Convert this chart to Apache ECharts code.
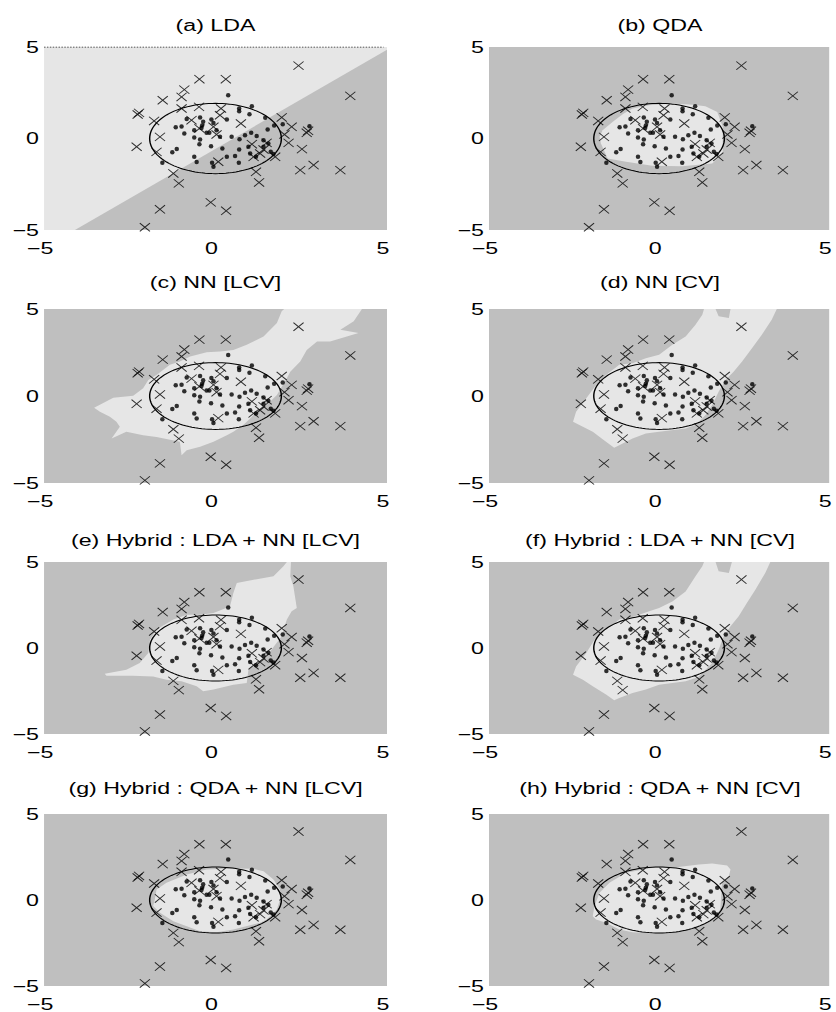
<!DOCTYPE html>
<html>
<head>
<meta charset="utf-8">
<script src="https://cdn.jsdelivr.net/npm/echarts@6/dist/echarts.min.js"></script>
<style>
    html, body { margin: 0; padding: 0; background: #fff; overflow: hidden; }
    /* the reference figure is stretched horizontally, so the chart is too */
    #main { width: 577px; height: 1012px; transform: scaleX(1.44887); transform-origin: 0 0; }
</style>
</head>
<body>
<div id="main"></div>
<script>
// class 1 points (dots), shared by all panels
var dotPoints = [
    [0.37, 2.36], [0.69, 1.64], [0.69, 1.49], [1.06, 1.76], [0.99, 1.33], [1.45, 1.13],
    [0.33, 1.04], [-0.45, 1.15], [-0.84, 1.07], [-1.16, 0.62], [-0.99, 0.65], [-0.91, 0.27],
    [-0.62, 0.45], [-0.41, 0.58], [-0.39, 0.71], [-0.26, 0.31], [-0.18, 0.31], [-0.12, 1.04],
    [-0.06, 0.85], [-0.62, 0.05], [-0.45, -0.05], [-0.47, -0.31], [-0.13, -0.42], [-1.13, -0.58],
    [-1.26, -0.75], [-1.55, -1.33], [-0.62, -1.0], [-0.55, -1.29], [-0.10, -1.33], [-0.06, -1.55],
    [0.20, -0.55], [0.33, -1.0], [0.57, -0.95], [0.68, -1.33], [0.69, -0.6], [0.47, 0.09],
    [0.70, -0.04], [0.86, 0.18], [1.04, 0.31], [1.20, 0.13], [1.40, -0.09], [1.52, 0.49],
    [1.71, 0.71], [1.96, 0.78], [2.74, 0.67], [0.96, -0.45], [1.01, -0.82], [1.18, -1.0],
    [1.40, -0.45], [1.54, -0.27], [1.61, -0.73], [1.69, -0.85], [0.13, 0.09], [0.03, 0.45],
    [-0.36, 0.91]
];

// class 2 points (crosses)
var crossPoints = [
    [2.42, 3.98], [-0.47, 3.24], [0.30, 3.24], [-0.91, 2.67], [-0.99, 2.27], [-1.54, 2.09],
    [3.93, 2.33], [-2.27, 1.31], [-2.23, 1.40], [-0.99, 1.64], [-0.48, 1.73], [0.16, 1.64],
    [-1.79, 0.96], [-0.70, 1.0], [0.13, 1.27], [-0.47, 0.55], [-0.06, 0.64], [0.03, 0.22],
    [0.74, 0.82], [-1.62, 0.09], [-2.30, -0.45], [-1.72, -0.73], [1.93, 1.15], [2.22, 0.64],
    [2.01, 0.22], [2.66, 0.31], [2.70, 0.42], [2.13, -0.24], [1.06, -0.31], [1.49, -0.24],
    [1.40, -0.6], [1.74, -1.0], [1.11, -1.0], [1.30, -0.82], [2.52, -0.58], [0.08, -1.27],
    [2.47, -1.73], [2.86, -1.45], [3.64, -1.73], [-1.23, -1.91], [-1.07, -2.45], [1.18, -1.82],
    [1.27, -2.4], [-0.14, -3.49], [0.31, -3.95], [-1.62, -3.87], [-2.06, -4.85]
];

// reference contour
var ellipseCenter = [0, 0];
var ellipseRadius = [1.92, 1.92];

var axisMin = -5;
var axisMax = 5;
var axisStep = 5;

var panelTitles = [
    '(a) LDA', '(b) QDA',
    '(c) NN [LCV]', '(d) NN [CV]',
    '(e) Hybrid : LDA + NN [LCV]', '(f) Hybrid : LDA + NN [CV]',
    '(g) Hybrid : QDA + NN [LCV]', '(h) Hybrid : QDA + NN [CV]'
];

// decision regions (data coords)
var regionA = [[-4.1, -5], [5, 4.85], [5, -5]];
var regionB = [[-1.75, 0.10], [-1.66, 0.45], [-1.36, 0.91], [-1.05, 1.35], [-0.78, 1.64], [-0.3, 1.82],
    [0.39, 1.91], [1.0, 1.85], [1.36, 1.76], [1.71, 1.45], [1.87, 0.64], [1.87, -0.82], [1.56, -1.36],
    [0.68, -1.51], [-0.2, -1.49], [-0.97, -1.27], [-1.51, -1.09], [-1.71, -0.27]];
var regionC = [[-3.54, -0.67], [-2.98, -0.10], [-2.40, 0.02], [-2.11, 0.44], [-1.96, 0.92], [-1.72, 1.21],
    [-1.33, 1.79], [-1.04, 1.98], [-0.74, 2.27], [-0.26, 2.52], [0.13, 2.56], [0.52, 2.65], [0.91, 2.94],
    [1.40, 3.42], [1.79, 4.19], [1.93, 4.87], [2.0, 5], [4.27, 5], [4.03, 4.29], [3.64, 3.81], [4.17, 3.62],
    [3.34, 3.13], [2.96, 3.13], [2.66, 2.65], [2.47, 1.98], [2.18, 1.40], [2.08, 1.02], [1.79, 0.06],
    [1.49, -0.52], [1.20, -0.90], [1.01, -1.29], [0.81, -1.67], [0.52, -2.06], [0.33, -2.25], [-0.06, -2.63],
    [-0.45, -2.92], [-0.84, -3.12], [-0.99, -3.40], [-1.04, -2.63], [-1.72, -2.35], [-2.11, -2.25],
    [-2.6, -2.06], [-3.03, -2.44], [-2.79, -1.77], [-2.89, -1.48], [-3.08, -1.19], [-3.37, -0.90]];
var regionD = [[-2.53, -1.48], [-2.44, -0.90], [-2.14, -0.13], [-1.85, 0.63], [-1.56, 1.21], [-1.17, 1.79],
    [-0.78, 1.88], [-0.39, 2.17], [0.0, 2.37], [0.39, 2.94], [0.78, 3.42], [1.07, 4.10], [1.27, 4.67],
    [1.32, 5], [1.66, 5], [1.75, 4.58], [2.05, 4.48], [2.10, 5], [3.46, 5], [3.31, 4.38], [3.02, 3.52],
    [2.73, 2.75], [2.44, 1.98], [2.19, 1.40], [1.95, 0.92], [1.75, 0.25], [1.56, -0.52], [1.36, -1.10],
    [1.17, -1.48], [1.07, -1.67], [0.78, -1.87], [0.0, -2.06], [-0.39, -2.15], [-0.78, -2.44],
    [-1.17, -2.83], [-1.32, -2.98], [-1.56, -2.63], [-1.95, -2.06], [-2.24, -1.77]];
var regionE = [[-3.23, -1.49], [-2.6, -1.26], [-2.21, -0.87], [-1.96, -0.29], [-1.91, 0.48], [-1.72, 1.07],
    [-1.23, 1.65], [-0.84, 1.94], [-0.45, 1.94], [-0.06, 2.03], [0.42, 2.42], [0.52, 3.20], [0.62, 3.78],
    [1.11, 3.97], [1.69, 4.17], [1.98, 4.75], [2.08, 5], [2.2, 5], [2.18, 4.17], [2.27, 3.59], [2.37, 2.33],
    [2.22, 2.13], [2.08, 1.65], [1.93, 0.68], [1.74, 0.19], [1.49, -0.48], [1.20, -0.87], [0.96, -1.26],
    [0.91, -2.03], [0.52, -2.13], [-0.06, -2.42], [-0.36, -2.52], [-0.55, -2.23], [-0.99, -1.94],
    [-1.43, -1.84], [-1.82, -1.65], [-2.4, -1.61], [-3.18, -1.61]];
var regionF = [[-2.53, -1.55], [-2.44, -1.07], [-2.14, -0.29], [-1.90, 0.48], [-1.56, 1.07], [-1.17, 1.65],
    [-0.78, 1.80], [-0.29, 2.13], [0.0, 2.33], [0.39, 2.71], [0.78, 3.29], [1.07, 4.17], [1.27, 4.75],
    [1.32, 5], [1.66, 5], [1.75, 4.46], [2.05, 4.36], [2.14, 5], [3.27, 5], [3.12, 4.36], [2.83, 3.39],
    [2.58, 2.62], [2.34, 1.84], [2.10, 1.26], [1.90, 0.68], [1.75, -0.10], [1.56, -0.87], [1.17, -1.65],
    [1.07, -1.74], [0.78, -1.94], [0.0, -2.13], [-0.39, -2.42], [-0.78, -2.62], [-1.17, -2.91],
    [-1.32, -3.04], [-1.56, -2.71], [-1.95, -2.23], [-2.24, -1.84]];
var regionG = [[-1.77, 0.03], [-1.72, 0.61], [-1.43, 1.0], [-0.84, 1.48], [-0.26, 1.77], [0.52, 1.83],
    [1.11, 1.81], [1.40, 1.67], [1.69, 1.19], [1.88, 0.61], [1.88, 0.03], [1.79, -0.55], [1.49, -1.13],
    [1.30, -1.32], [0.52, -1.71], [0.03, -1.87], [-0.45, -1.81], [-0.84, -1.52], [-1.23, -1.23],
    [-1.62, -0.74], [-1.82, -0.35]];
var regionH = [[-1.95, -0.94], [-1.90, -0.36], [-1.75, 0.42], [-1.46, 1.0], [-0.97, 1.58], [-0.20, 1.87],
    [0.39, 1.87], [1.17, 2.06], [1.56, 2.12], [2.0, 2.0], [2.10, 1.77], [2.05, 1.38], [1.85, 1.0],
    [1.80, -0.55], [1.56, -1.13], [1.17, -1.52], [0.58, -1.81], [-0.20, -1.94], [-0.78, -1.87],
    [-1.17, -1.71], [-1.56, -1.32], [-1.85, -1.13]];

var panelRegions = [regionA, regionB, regionC, regionD, regionE, regionF, regionG, regionH];

// top edge of panel (a) is drawn as a dark dotted line
var topEdge = [[-5, 5], [4.9, 5]];

var LIGHT = '#e6e6e6';
var DARK = '#bfbfbf';
var FONT = 'Liberation Sans';

// layout (px, before the horizontal stretch)
var colLeft = [30.4, 337.5];
var colWidth = [236.7, 236.0];
var rowTop = [47, 309, 562, 814];
var rowHeight = [183, 174, 172, 173];
var titleTop = [17, 274, 532, 780];

function tickLabel(v) {
    return v < 0 ? '\u2212' + (-v) : String(v);
}

function regionSeries(idx, poly, color) {
    return {
        type: 'custom',
        xAxisIndex: idx,
        yAxisIndex: idx,
        silent: true,
        clip: true,
        z: 1,
        data: [[0, 0]],
        renderItem: function (params, api) {
            var pts = poly.map(function (p) { return api.coord(p); });
            return { type: 'polygon', shape: { points: pts }, style: { fill: color } };
        }
    };
}

function ellipseSeries(idx) {
    return {
        type: 'custom',
        xAxisIndex: idx,
        yAxisIndex: idx,
        silent: true,
        z: 3,
        data: [ellipseCenter],
        renderItem: function (params, api) {
            var c = api.coord(ellipseCenter);
            var s = api.size(ellipseRadius);
            var pts = [];
            for (var i = 0; i <= 120; i++) {
                var t = i / 120 * Math.PI * 2;
                pts.push([c[0] + s[0] * Math.cos(t), c[1] + s[1] * Math.sin(t)]);
            }
            return { type: 'polyline', shape: { points: pts }, style: { stroke: '#000', lineWidth: 1, fill: null } };
        }
    };
}

function drawChart() {
    var myChart = echarts.init(document.getElementById('main'), null, { renderer: 'svg' });
    var grids = [], xAxes = [], yAxes = [], titles = [], series = [];

    for (var i = 0; i < 8; i++) {
        var col = i % 2, row = Math.floor(i / 2);
        grids.push({
            left: colLeft[col], top: rowTop[row], width: colWidth[col], height: rowHeight[row],
            show: true, borderWidth: 0, backgroundColor: i === 0 ? LIGHT : DARK
        });
        xAxes.push({
            gridIndex: i, type: 'value', min: axisMin, max: axisMax, interval: axisStep,
            axisLine: { show: false }, axisTick: { show: false }, splitLine: { show: false },
            axisLabel: { margin: 10, padding: [0, 5.5, 0, 0], fontSize: 16, color: '#000', fontFamily: FONT, formatter: tickLabel }
        });
        yAxes.push({
            gridIndex: i, type: 'value', min: axisMin, max: axisMax, interval: axisStep,
            axisLine: { show: false }, axisTick: { show: false }, splitLine: { show: false },
            axisLabel: { margin: 3.5, fontSize: 16, color: '#000', fontFamily: FONT, formatter: tickLabel }
        });
        titles.push({
            text: panelTitles[i],
            left: colLeft[col] + colWidth[col] / 2,
            top: titleTop[row],
            textAlign: 'center',
            padding: 0,
            textStyle: { fontSize: 16, fontWeight: 'normal', color: '#000', fontFamily: FONT }
        });

        series.push(regionSeries(i, panelRegions[i], i === 0 ? DARK : LIGHT));
        series.push(ellipseSeries(i));
        series.push({
            type: 'scatter', xAxisIndex: i, yAxisIndex: i, silent: true, z: 4,
            symbol: 'path://M0,0L10,10M10,0L0,10',
            symbolSize: [7, 8.3],
            itemStyle: { color: '#000', borderColor: '#000', borderWidth: 0.8 },
            data: crossPoints
        });
        series.push({
            type: 'scatter', xAxisIndex: i, yAxisIndex: i, silent: true, z: 5,
            symbol: 'path://M0,5A5,5,0,1,1,10,5A5,5,0,1,1,0,5Z',
            symbolSize: [3.1, 4.5],
            itemStyle: { color: '#000' },
            data: dotPoints
        });
    }

    series.push({
        type: 'line', xAxisIndex: 0, yAxisIndex: 0, silent: true, z: 2,
        symbol: 'none',
        lineStyle: { color: '#222', width: 1, type: [1, 1] },
        data: topEdge
    });

    var option = {
        animation: false,
        backgroundColor: '#fff',
        title: titles,
        grid: grids,
        xAxis: xAxes,
        yAxis: yAxes,
        series: series
    };
    myChart.setOption(option);
}

drawChart();
</script>
</body>
</html>
